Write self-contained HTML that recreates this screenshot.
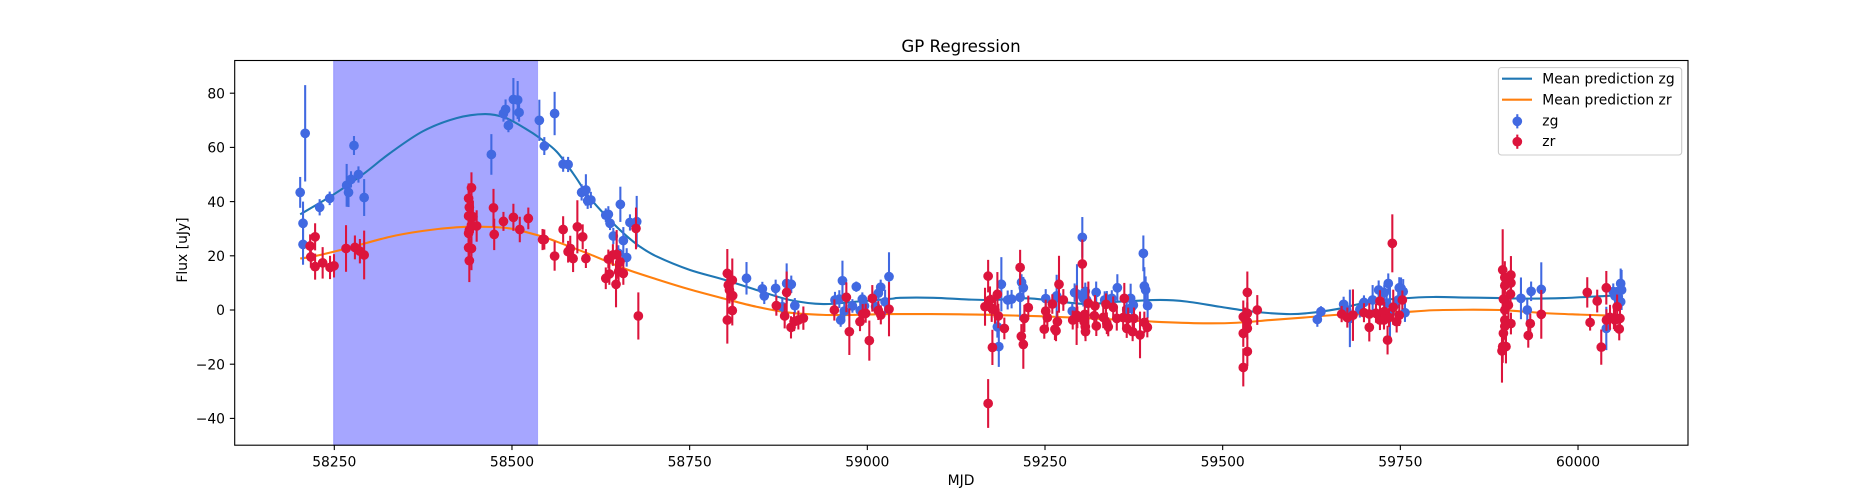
<!DOCTYPE html>
<html>
<head>
<meta charset="utf-8">
<title>GP Regression</title>
<style>
html,body{margin:0;padding:0;background:#fff;}
svg{display:block;}
text{font-family:"DejaVu Sans",sans-serif;fill:#000;}
</style>
</head>
<body>
<svg id="chart" xmlns="http://www.w3.org/2000/svg" width="1875" height="500" viewBox="0 0 1875 500">
  <rect x="0" y="0" width="1875" height="500" fill="#fff"/>
  <g id="spanLayer"></g>
  <g id="curveLayer"></g>
  <g id="zgLayer"></g>
  <g id="zrLayer"></g>
  <rect x="234.7" y="60.5" width="1453.3" height="384.7" fill="none" stroke="#000" stroke-width="1.11"/>
  <g id="tickLayer"></g>
  <text x="961" y="52" text-anchor="middle" font-size="16.67">GP Regression</text>
  <text x="961" y="485" text-anchor="middle" font-size="13.89">MJD</text>
  <text transform="translate(187,250) rotate(-90)" text-anchor="middle" font-size="13.89">Flux [uJy]</text>
  <g>
    <rect x="1498.4" y="67.6" width="183.3" height="87.4" rx="3" ry="3" fill="#fff" fill-opacity="0.8" stroke="#ccc" stroke-width="1.11"/>
    <line x1="1502" x2="1532" y1="78.7" y2="78.7" stroke="#1f77b4" stroke-width="2.08"/>
    <text x="1542.3" y="83.6" font-size="13.89">Mean prediction zg</text>
    <line x1="1502" x2="1532" y1="99.7" y2="99.7" stroke="#ff7f0e" stroke-width="2.08"/>
    <text x="1542.3" y="104.6" font-size="13.89">Mean prediction zr</text>
    <line x1="1517.3" x2="1517.3" y1="114.2" y2="128.4" stroke="#4169e1" stroke-width="2.08"/>
    <circle cx="1517.3" cy="121.3" r="4.86" fill="#4169e1"/>
    <text x="1542.3" y="125.4" font-size="13.89">zg</text>
    <line x1="1517.3" x2="1517.3" y1="134.6" y2="148.8" stroke="#dc143c" stroke-width="2.08"/>
    <circle cx="1517.3" cy="141.7" r="4.86" fill="#dc143c"/>
    <text x="1542.3" y="146" font-size="13.89">zr</text>
  </g>
</svg>
<script>
const xTickValues = [58250,58500,58750,59000,59250,59500,59750,60000];
const xTickLabels = ["58250","58500","58750","59000","59250","59500","59750","60000"];
const yTickValues = [-40,-20,0,20,40,60,80];
const yTickLabels = ["\u221240","\u221220","0","20","40","60","80"];
const spanRange = [58249,58536];

const meanZgMjd = [58202,58249,58291,58328,58375,58422,58462,58490,58516,58540,58563,58586,58600,58610,58633,58657,58680,58704,58750,58797,58844,58891,58938,58985,59032,59046,59093,59140,59177,59224,59262,59309,59356,59412,59450,59496,59543,59590,59618,59660,59708,59754,59796,59843,59890,59932,59979,60040,60062];
const meanZgFlux = [35.3,42.6,50.2,57.8,66,70.8,72.3,71,67.4,63.3,58.4,50.4,44.9,41.2,34.5,28.3,23.4,19.7,14.8,11.3,7.4,3.7,2.2,3.1,4.1,4.5,4.5,3.9,3.7,4.3,3.4,2.2,3.1,3.7,3.1,1.2,-0.6,-1.5,-1.2,0.3,3.1,4.3,4.8,4.6,4.4,4.2,4.4,5.2,5.5];
const meanZrMjd = [58202,58223,58267,58328,58375,58422,58460,58497,58540,58563,58610,58657,58704,58750,58797,58844,58891,58938,58985,59032,59130,59215,59262,59332,59403,59473,59520,59567,59614,59660,59708,59750,59796,59843,59890,59909,59956,60003,60050,60062];
const meanZrFlux = [19,19.9,22.7,27,29.2,30.5,30.7,30.1,27.3,25.2,20.5,15.4,11.3,7.6,4.3,1.2,-1,-1.8,-1.8,-1.5,-1.6,-2.1,-2.5,-3.3,-4.3,-4.9,-4.7,-3.7,-2.8,-1.8,-1.5,-0.9,-0.1,0.1,0,-0.3,-1.2,-1.7,-2.1,-2.2];

const zgMjd = [
58202,58206,58206,58209,58229.4,58243.5,58267.4,58270,58273.5,58277.7,58284,58292,
58471,58488,58491,58495,58502,58508,58510,58538.5,58545.5,58560,58572,58579,58598,58604,58606.5,58611,
58632,58635.6,58638,58642.6,58649.7,58652.5,58656.7,58661.4,58666,58675.5,
58830,58852.3,58855,58871,58880.4,58886.5,58893,58898,
58954.5,58960.6,58965,58962.5,58967.6,58979,58984.5,58993,58996,58990,59011.7,59015.5,59018.8,59025,59030.5,
59188.6,59183,59185,59197.5,59203,59217,59219.5,59215,
59251,59266.4,59288.4,59291.7,59295,59302.5,59306.7,59304,59308.6,59322,59334,59344,59337,59351.8,59365,59370.5,59372,59374.3,59388.4,59389.8,59391.6,59394.4,
59638.3,59633.2,59670.2,59679,59674.4,59693,59698.8,59711,59719.5,59727.4,59733,59730.7,59735.4,59748.5,59751,59754,59747,59756.5,
59919.7,59928.6,59934,59948.3,60039.8,60049.6,60054.3,60060,60061.3,60056.6,60052,60060];
const zgFlux = [
43.4,32,24.2,65.2,37.9,41.2,46,43.4,48.2,60.7,50,41.5,
57.4,72.5,74,68.1,77.7,77.5,72.9,70,60.5,72.5,53.8,53.7,43.4,44.3,40.3,40.6,
35,35.3,32,27.3,20.9,39,25.6,19.4,32.3,32.6,
11.7,7.8,5.2,8,1.2,9.8,9.5,1.6,
3.7,4,10.8,-3.7,-0.4,1.5,8.6,4,1.5,-0.2,1.2,6.2,8.4,3,12.3,
9.5,-6.2,-13.5,3.7,4,10.2,8.2,4.7,
4.2,5.2,-0.4,6.4,5.9,26.8,6.9,4.3,3.7,6.5,3.7,4.3,4,8.2,0.2,4.3,1,1.8,20.9,8.8,7.4,1.6,
-0.6,-3.5,2.1,-3.1,0,0.2,2.8,3.7,7.4,6.4,9.8,2.5,-1.2,8.2,8,6.8,3.7,-1,
4.3,0,6.9,7.6,-6.8,6.8,5.5,9.8,7.4,4.9,5.2,3];
const zgErr = [
5.7,8,7.5,17.8,3,2.5,7.9,5.4,3,3.5,3,6.8,
7.5,3,3.7,2.5,7.9,7,3.4,7.6,3.3,8,2.8,2.8,3,5.8,3,3,
2.5,3,2.5,3,3,6.5,5,3.4,3,9.5,
6,2.6,3,3.2,3,7.4,3.2,2.8,
3,3.3,7.4,2.5,2.8,2.5,1.9,2.5,3,2.8,2.8,3,2.8,4.5,9,
10,4,7.5,3.5,3.4,3,4,8.5,
3.5,7.8,3,3.4,11,7.5,3.2,3,3,4,3.2,3,3,5,3,5.4,3,3,6.6,7,5,4.5,
2,2.7,2.8,10.6,3,3,2.6,5.5,3.5,3,3.7,3,9.9,3.9,4,4.6,3,3.4,
7.7,4,3.6,10,8,3,3,5.5,7.4,3,3,3];

const zrMjd = [
58216,58217,58223,58223,58233.6,58244,58249.6,58266.5,58279,58286,58292,
58440,58439,58443,58439,58440,58443,58439,58440,58439,58443,58445,58450.3,58474,58475,58488,58502,58511,58523,
58543,58545.5,58560,58572,58579,58582,58586,58592,58599.5,58604,
58632,58637,58635.6,58642,58647.3,58650,58652,58656.7,58646.4,58674.5,58677.8,
58803,58804.4,58806,58810,58810.5,58810,58803,58872,58886.5,58883.7,58892.6,58897,58903,58910,
58953.6,58970.5,58974.7,58989.7,58993.5,58997.7,59002.8,59007,59015.5,59019,59030.5,
59165.6,59170,59170,59172.6,59175,59176,59179.6,59183,59184.3,59192.8,59215,59226.5,59221,59216.7,59219.5,
59249,59251,59253.3,59260.3,59264,59265.5,59267.4,59269.7,59275.8,59289,59294.5,59295.5,59302.5,59306,59305,59307,59306.7,59311,59320.3,59319.4,59322.2,59332,59335.8,59339,59346,59351,59337,59360,59361.6,59367,59365,59375.2,59373.3,59383.7,59389.8,59394,
59534.7,59548.7,59529,59534.7,59531.4,59534.7,59534.7,59529,59534.7,59529,
59667.4,59675.4,59683.3,59698.8,59706.3,59706.3,59715.7,59721.3,59727.4,59721.3,59727,59734,59732,59738.7,59740,59744.8,59748.5,59752.8,
59894,59897,59905.6,59905.6,59897,59905,59895,59902,59897,59897,59905.6,59897,59895,59898.6,59893,59894,
59932.8,59930,59948.3,60013,60027,60017,60032.7,60039.8,60040,60045,60050.5,60055,60059,60058,60052];
const zrFlux = [
23.6,19.6,27,16,17.4,15.7,16.3,22.7,23.1,21.7,20.3,
18.2,23,22.7,28.3,29.5,31.3,34.7,37.9,41.2,45.1,34.4,31,37.7,27.9,32.7,34.2,29.7,33.8,
26,26,19.9,29.7,21.5,22.7,19,30.7,27,19,
11.7,13.3,18.8,20.3,20.5,14.2,17.8,13.5,9.5,30.1,-2.2,
13.5,9.2,7.4,11,5.3,-0.2,-3.7,1.6,6.5,-2.2,-6.4,-4.3,-3.7,-3,
0,4.7,-8,-4.3,-1.5,-1.2,-11.3,4.3,-0.2,-1.8,0.3,
1.2,12.5,-34.5,3.7,0.6,-13.8,0,5.8,-2.2,-6.8,15.7,0.9,-3.1,-9.7,-12.7,
-7.1,-0.4,-2.8,2.2,-7.1,-7.7,-4.3,9.5,3.7,-3.7,-1.9,-2.7,17,-1.6,-4.3,-8,-6.2,2.5,1.5,-2.1,-5.9,-2.7,2.1,-6.2,1,-3.1,-4.9,-2.8,4.3,-3.1,-6.8,-3.1,-8,-9.2,-4.6,-6.4,
6.5,0,-2.5,-1.2,-3.1,-4.3,-6.8,-8.6,-15.3,-21.2,
-1.5,-2.8,-1.9,-1,-1.5,-6.4,-1.2,-3.7,-0.6,3.3,-3.7,-2.8,-11.1,24.6,1,-4.3,-1.9,3.7,
14.8,12,12.9,10,9,5.9,4,1.8,0,-3.7,-5,-6,-8.6,-13.5,-15.1,-13.5,
-5,-9.4,-1.6,6.5,3.3,-4.6,-13.7,8.2,-3.7,-2.7,-3.1,1.2,-3.1,-7,-3.7];
const zrErr = [
4.3,4,5,4.8,5.8,4.3,4.3,8.6,4.4,4.5,9,
7.9,6,8,7.4,7.4,6.8,7,7.7,5.5,5.7,6,5.8,7,5.8,3.5,5,4.7,4,
3.9,3.7,5.4,4.9,4,4.7,5,9.8,4.6,3.5,
4,4,3.5,4,9,4.3,4,4.2,8.5,7.7,8.7,
9,5,5,8,5,5.5,8.7,3.7,7.7,4.6,4.1,3.5,3.5,4.3,
3.9,5.5,8.6,3.5,3.7,3.5,7.4,4.9,3.5,3.5,10,
7,6,9,5,5,6.5,5,8.2,4.5,4,6.5,4.4,5,4.5,9,
3.5,4.2,4,3.6,4,3.8,4,10.5,4,3.5,11,4,9,4,4,3.5,4,8,4,4,3.7,4,4,3.5,4,4.5,4,4,5.7,4,3.5,4,3.5,8.6,4,3.7,
7.7,5.5,6,4,4,4,4,5,5.5,7,
3,3.7,9.5,3.5,4,5.2,3.5,3.7,3.5,4,3.5,3.5,5.3,10.7,6.5,4,4,3.5,
15,6,7,5,5,5,6,5,5,5,4,5,5,6.2,11.7,6,
3.7,4.5,9,5.6,4.2,3,6.5,6.2,4,4.6,4,4.5,3.5,4.2,4];

const SVG_NS = 'http://www.w3.org/2000/svg';
const AX_LEFT = 234.7, AX_RIGHT = 1688, AX_TOP = 60.5, AX_BOTTOM = 445.2;
function xScale(m){ return 334.3 + (m - 58250) * 0.7107; }
function yScale(f){ return 310 - f * 2.71; }
function make(tag, parent, attrs){
  const el = document.createElementNS(SVG_NS, tag);
  for (const k in attrs) el.setAttribute(k, attrs[k]);
  parent.appendChild(el);
  return el;
}
function smoothPath(xs, ys){
  const px = xs.map(xScale), py = ys.map(yScale);
  let d = 'M' + px[0].toFixed(2) + ' ' + py[0].toFixed(2);
  for (let i = 0; i < px.length - 1; i++){
    const i0 = Math.max(0, i - 1), i3 = Math.min(px.length - 1, i + 2);
    const c1x = px[i] + (px[i + 1] - px[i0]) / 6, c1y = py[i] + (py[i + 1] - py[i0]) / 6;
    const c2x = px[i + 1] - (px[i3] - px[i]) / 6, c2y = py[i + 1] - (py[i3] - py[i]) / 6;
    d += 'C' + c1x.toFixed(2) + ' ' + c1y.toFixed(2) + ' ' + c2x.toFixed(2) + ' ' + c2y.toFixed(2) + ' ' + px[i + 1].toFixed(2) + ' ' + py[i + 1].toFixed(2);
  }
  return d;
}

const spanLayer = document.getElementById('spanLayer');
const span = make('rect', spanLayer, {
  x: xScale(spanRange[0]), y: AX_TOP,
  width: xScale(spanRange[1]) - xScale(spanRange[0]), height: AX_BOTTOM - AX_TOP,
  fill: 'rgb(0,0,255)', 'fill-opacity': 0.35, stroke: 'rgb(0,0,255)', 'stroke-opacity': 0.2, 'stroke-width': 1.1
});



const curveLayer = document.getElementById('curveLayer');
const curveZg = make('path', curveLayer, { d: smoothPath(meanZgMjd, meanZgFlux), fill: 'none', stroke: '#1f77b4', 'stroke-width': 2.08 });


const curveZr = make('path', curveLayer, { d: smoothPath(meanZrMjd, meanZrFlux), fill: 'none', stroke: '#ff7f0e', 'stroke-width': 2.08 });



function drawBand(layer, mjd, flux, err, color, band){
  for (let i = 0; i < mjd.length; i++){
    const bar = make('line', layer, {
      x1: xScale(mjd[i]), x2: xScale(mjd[i]),
      y1: yScale(flux[i] + err[i]), y2: yScale(flux[i] - err[i]),
      stroke: color, 'stroke-width': 2.08
    });
    
    
  }
  for (let i = 0; i < mjd.length; i++){
    const dot = make('circle', layer, { cx: xScale(mjd[i]), cy: yScale(flux[i]), r: 4.86, fill: color });
    
    
  }
}
drawBand(document.getElementById('zgLayer'), zgMjd, zgFlux, zgErr, '#4169e1', 'zg');
drawBand(document.getElementById('zrLayer'), zrMjd, zrFlux, zrErr, '#dc143c', 'zr');

const tickLayer = document.getElementById('tickLayer');
xTickValues.forEach(function(v, i){
  const x = xScale(v);
  const t = make('line', tickLayer, { x1: x, x2: x, y1: AX_BOTTOM, y2: AX_BOTTOM + 4.86, stroke: '#000', 'stroke-width': 1.11 });
  
  
  const l = make('text', tickLayer, { x: x, y: 466.4, 'text-anchor': 'middle', 'font-size': 13.89 });
  
  
  l.textContent = xTickLabels[i];
});
yTickValues.forEach(function(v, i){
  const y = yScale(v);
  const t = make('line', tickLayer, { x1: AX_LEFT - 4.86, x2: AX_LEFT, y1: y, y2: y, stroke: '#000', 'stroke-width': 1.11 });
  
  
  const l = make('text', tickLayer, { x: AX_LEFT - 9.7, y: y + 5.2, 'text-anchor': 'end', 'font-size': 13.89 });
  
  
  l.textContent = yTickLabels[i];
});
</script>
</body>
</html>
